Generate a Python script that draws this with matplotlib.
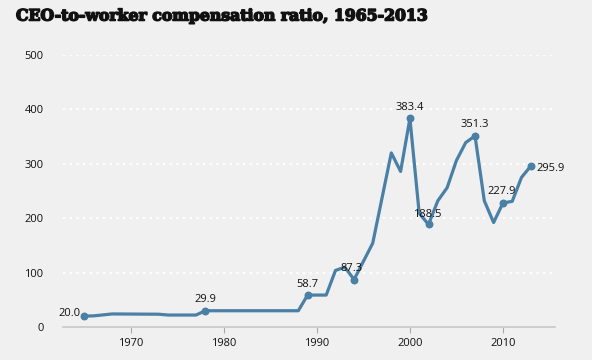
import matplotlib.pyplot as plt
import matplotlib.patheffects as pe
import numpy as np

years = [1965, 1966, 1968, 1973, 1974, 1977, 1978, 1988, 1989, 1991, 1992, 1993,
         1994, 1996, 1997, 1998, 1999, 2000, 2001, 2002, 2003, 2004, 2005,
         2006, 2007, 2008, 2009, 2010, 2011, 2012, 2013]
ratio = [20.0, 20.5, 24.0, 23.5, 22.0, 22.0, 29.9, 29.9, 58.7, 58.7, 104.0, 110.0,
         87.3, 154.0, 237.0, 320.0, 286.0, 383.4, 209.0, 188.5, 232.0, 256.0, 306.0,
         339.0, 351.3, 232.0, 192.0, 227.9, 231.0, 275.0, 295.9]

# labelled points: year -> (dx, dy, ha, va) in points
labels = {
    1965: (-3, 2, 'right', 'center'),
    1978: (0, 4, 'center', 'bottom'),
    1989: (0, 4, 'center', 'bottom'),
    1994: (-2, 4, 'center', 'bottom'),
    2000: (0, 4, 'center', 'bottom'),
    2002: (-1, 3, 'center', 'bottom'),
    2007: (0, 4, 'center', 'bottom'),
    2010: (-1, 4, 'center', 'bottom'),
    2013: (4, -2, 'left', 'center'),
}

bg = '#f0f0f0'
blue = '#4a7fa6'

fig = plt.figure(figsize=(5.92, 3.6), dpi=100, facecolor=bg)
ax = fig.add_axes([63 / 592, 33 / 360, 492 / 592, 272 / 360], facecolor=bg)

ax.plot(years, ratio, color=blue, lw=2.3, solid_joinstyle='round', solid_capstyle='round',
        zorder=3, clip_on=False)
lx = [y for y in years if y in labels]
ly = [ratio[years.index(y)] for y in lx]
ax.scatter(lx, ly, s=22, color=blue, zorder=4, clip_on=False)
for x, y in zip(lx, ly):
    dx, dy, ha, va = labels[x]
    ax.annotate('{:.1f}'.format(y), (x, y), xytext=(dx, dy), textcoords='offset points',
                ha=ha, va=va, fontsize=8, family='Open Sans', color='#111111', zorder=5)

ax.set_xlim(1962.7, 2015.6)
ax.set_ylim(0, 500)
ax.set_yticks(range(0, 501, 100))
ax.set_xticks(range(1970, 2011, 10))
for v in range(100, 501, 100):
    ax.axhline(v, color='white', lw=1.6, ls=(0, (1, 2)), zorder=1)

for s in ['top', 'right', 'left']:
    ax.spines[s].set_visible(False)
ax.spines['bottom'].set_color('#c8c8c8')
ax.spines['bottom'].set_linewidth(1.2)
ax.tick_params(axis='x', length=4, color='#aaaaaa', labelsize=8, pad=4)
ax.tick_params(axis='y', length=0, labelsize=8, pad=14)
for t in ax.get_xticklabels() + ax.get_yticklabels():
    t.set_family('Open Sans')
    t.set_color('#111111')

fig.text(16 / 592, 1 - 16 / 360, 'CEO-to-worker compensation ratio, 1965-2013',
         family='DejaVu Serif', weight='heavy', fontsize=11.3, va='center', ha='left',
         color='#111111',
         path_effects=[pe.withStroke(linewidth=1.1, foreground='#111111')])

plt.savefig('out.png', dpi=100, facecolor=bg)
